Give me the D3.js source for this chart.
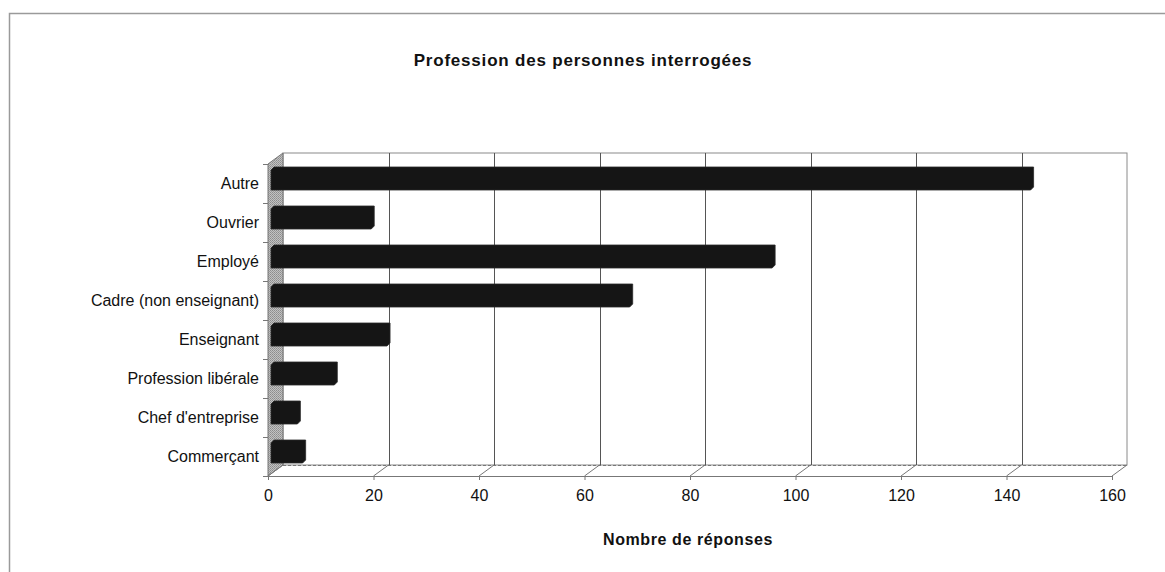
<!DOCTYPE html>
<html>
<head>
<meta charset="utf-8">
<title>Profession des personnes interrogées</title>
<script src="https://cdnjs.cloudflare.com/ajax/libs/d3/7.8.5/d3.min.js"></script>
<style>
  body{margin:0;background:#fff;}
  svg{display:block;font-family:"Liberation Sans",Arial,sans-serif;}
  .tick text{font-size:16px;fill:#111;}
</style>
</head>
<body>
<div id="chart"></div>
<script>
// data, top to bottom as in the picture
var categories = ["Autre", "Ouvrier", "Employé", "Cadre (non enseignant)", "Enseignant",
                  "Profession libérale", "Chef d'entreprise", "Commerçant"];
var values = [144, 19, 95, 68, 22, 12, 5, 6];
var xTicks = [0, 20, 40, 60, 80, 100, 120, 140, 160];

var W = 1165, H = 572;
// 3d depth offset of the back wall vs front plane
var dx = 15, dy = -11;
var front = {left: 268, right: 1112, top: 164, bottom: 476};

var svg = d3.select("#chart").append("svg")
  .attr("width", W).attr("height", H);

// outer frame (top + left only visible)
svg.append("path").attr("d", "M9.5,572V13.5H1165")
  .attr("fill", "none").attr("stroke", "#9a9a9a").attr("stroke-width", 1.5);

var x = d3.scaleLinear().domain([0, 160]).range([front.left, front.right]);
var y = d3.scaleBand().domain(categories)
  .range([front.top, front.bottom]).paddingInner(0).paddingOuter(0);

// back wall
var bw = svg.append("g").attr("transform", "translate(" + dx + "," + dy + ")");
bw.append("rect")
  .attr("x", front.left).attr("y", front.top)
  .attr("width", front.right - front.left).attr("height", front.bottom - front.top)
  .attr("fill", "#fff").attr("stroke", "#8a8a8a");
bw.selectAll("line.grid").data(xTicks.slice(1, -1)).enter().append("line")
  .attr("class", "grid")
  .attr("x1", function(d){ return Math.round(x(d)) + 0.5; })
  .attr("x2", function(d){ return Math.round(x(d)) + 0.5; })
  .attr("y1", front.top).attr("y2", front.bottom)
  .attr("stroke", "#555");

// left wall (stippled grey)
var defs = svg.append("defs");
var pat = defs.append("pattern").attr("id", "stip").attr("width", 2).attr("height", 2)
  .attr("patternUnits", "userSpaceOnUse");
pat.append("rect").attr("width", 2).attr("height", 2).attr("fill", "#c2c2c2");
pat.append("rect").attr("width", 1).attr("height", 1).attr("fill", "#8c8c8c");
pat.append("rect").attr("x", 1).attr("y", 1).attr("width", 1).attr("height", 1).attr("fill", "#9a9a9a");

svg.append("path")
  .attr("d", "M" + front.left + "," + front.top + "L" + (front.left + dx) + "," + (front.top + dy) +
             "L" + (front.left + dx) + "," + (front.bottom + dy) + "L" + front.left + "," + front.bottom + "Z")
  .attr("fill", "url(#stip)").attr("stroke", "#777");

// floor
var floor = svg.append("g");
floor.append("line")
  .attr("x1", front.left + dx).attr("x2", front.right + dx)
  .attr("y1", front.bottom + dy + 0.5).attr("y2", front.bottom + dy + 0.5)
  .attr("stroke", "#777").attr("stroke-dasharray", "3,2");
floor.append("line")
  .attr("x1", front.left).attr("x2", front.right)
  .attr("y1", front.bottom + 0.5).attr("y2", front.bottom + 0.5)
  .attr("stroke", "#777");
floor.selectAll("line.dep").data(xTicks).enter().append("line")
  .attr("class", "dep")
  .attr("x1", function(d){ return x(d); }).attr("y1", front.bottom)
  .attr("x2", function(d){ return x(d) + dx; }).attr("y2", front.bottom + dy)
  .attr("stroke", "#777");

// x axis on the front edge of the floor
var xAxis = svg.append("g")
  .attr("transform", "translate(0," + front.bottom + ")")
  .call(d3.axisBottom(x).tickValues(xTicks).tickSize(4).tickPadding(10));
xAxis.select(".domain").remove();
xAxis.selectAll(".tick line").attr("stroke", "#777");

// y axis on the front edge of the left wall
var yAxis = svg.append("g")
  .attr("transform", "translate(" + front.left + ",0)")
  .call(d3.axisLeft(y).tickSize(0).tickPadding(9));
yAxis.select(".domain").remove();
yAxis.selectAll(".tick text").attr("dy", "0.32em");
svg.selectAll("line.ytick").data(categories.concat([null])).enter().append("line")
  .attr("class", "ytick")
  .attr("x1", front.left - 5).attr("x2", front.left)
  .attr("y1", function(d, i){ return front.top + i * y.step() + 0.5; })
  .attr("y2", function(d, i){ return front.top + i * y.step() + 0.5; })
  .attr("stroke", "#777");

// bars, sitting at mid depth
var bx = 3, by = -5, d = 3, bh = 20;
svg.append("g").selectAll("path.bar").data(values).enter().append("path")
  .attr("class", "bar")
  .attr("d", function(v, i){
    var c = y(categories[i]) + y.bandwidth() / 2 + by;
    var x0 = x(0) + bx, x1 = x(v) + bx;
    var yt = c - bh / 2 + d / 2, yb = c + bh / 2 + d / 2;
    return "M" + x0 + "," + yb + "L" + x1 + "," + yb + "L" + (x1 + d) + "," + (yb - d) +
           "L" + (x1 + d) + "," + (yt - d) + "L" + (x0 + d) + "," + (yt - d) + "L" + x0 + "," + yt + "Z";
  })
  .attr("fill", "#151515").attr("stroke", "#2a2a2a").attr("stroke-width", 0.8);

// titles
svg.append("text").attr("x", 583).attr("y", 66).attr("text-anchor", "middle")
  .attr("font-size", 17).attr("font-weight", "bold").attr("fill", "#111")
  .attr("letter-spacing", 0.8)
  .text("Profession des personnes interrogées");
svg.append("text").attr("x", 688).attr("y", 545).attr("text-anchor", "middle")
  .attr("font-size", 16).attr("font-weight", "bold").attr("fill", "#111")
  .attr("letter-spacing", 0.6)
  .text("Nombre de réponses");
</script>
</body>
</html>
